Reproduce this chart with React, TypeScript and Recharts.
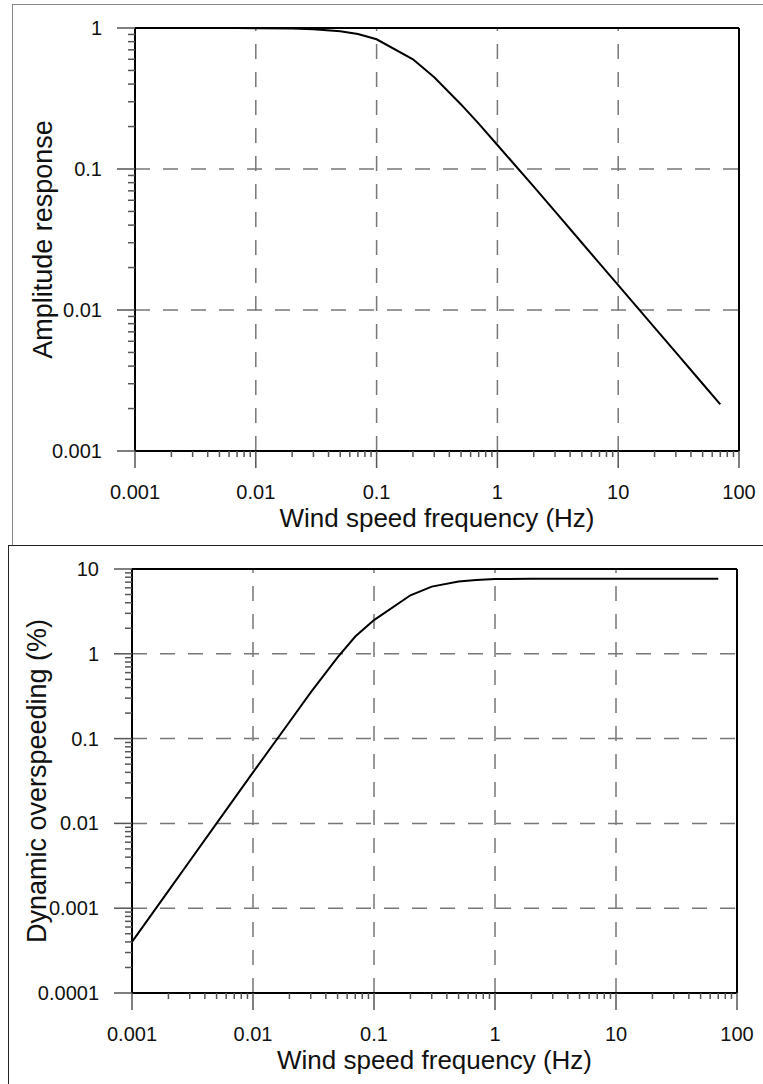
import React from "react";
import { LineChart, Line, XAxis, YAxis, ReferenceLine, Label } from "recharts";

// sampled frequencies (Hz), shared by both panels
const freq = [
  0.001, 0.002, 0.003, 0.005, 0.007, 0.01, 0.02, 0.03, 0.05, 0.07, 0.1, 0.2,
  0.3, 0.5, 0.7, 1, 2, 3, 5, 7, 10, 20, 30, 50, 70,
];

// top panel: amplitude response
const amplitude = [
  1.0, 1.0, 1.0, 0.9994, 0.9989, 0.9978, 0.991, 0.981, 0.949, 0.906, 0.832,
  0.6, 0.447, 0.287, 0.21, 0.148, 0.075, 0.05, 0.03, 0.0214, 0.015, 0.0075,
  0.005, 0.003, 0.00214,
];

// bottom panel: dynamic overspeeding (%)
const overspeed = [
  0.0004, 0.0016, 0.0036, 0.01, 0.0196, 0.04, 0.157, 0.35, 0.91, 1.6, 2.5,
  4.9, 6.2, 7.1, 7.4, 7.6, 7.7, 7.7, 7.7, 7.7, 7.7, 7.7, 7.7, 7.7, 7.7,
];

const xDecades = [0.001, 0.01, 0.1, 1, 10, 100];
const ampDecades = [0.001, 0.01, 0.1, 1];
const overDecades = [0.0001, 0.001, 0.01, 0.1, 1, 10];

const FONT = "'Liberation Sans', Arial, sans-serif";
const GRID = "#777";
const TICK = "#555";

// decades plus the 2..9 minor ticks in between
function withMinor(decades: number[]) {
  const out: number[] = [];
  decades.forEach((d, i) => {
    out.push(d);
    if (i < decades.length - 1) {
      for (let k = 2; k <= 9; k++) out.push(Number((d * k).toPrecision(6)));
    }
  });
  return out;
}

const isDecade = (v: number) => {
  const l = Math.log10(v);
  return Math.abs(l - Math.round(l)) < 1e-6;
};

const XTick = (props: any) => {
  const { x, y, payload } = props;
  const major = isDecade(payload.value);
  return (
    <g>
      <line x1={x} y1={y} x2={x} y2={y + (major ? 17 : 6)} stroke={TICK} strokeWidth={1.5} />
      {major && (
        <text x={x} y={y + 48} textAnchor="middle" fontSize={20} fill="#111" fontFamily={FONT}>
          {String(payload.value)}
        </text>
      )}
    </g>
  );
};

const YTick = (props: any) => {
  const { x, y, payload } = props;
  const major = isDecade(payload.value);
  return (
    <g>
      <line x1={x - (major ? 18 : 7)} y1={y} x2={x} y2={y} stroke={TICK} strokeWidth={1.5} />
      {major && (
        <text x={x - 33} y={y} textAnchor="end" dominantBaseline="central" fontSize={20} fill="#111" fontFamily={FONT}>
          {String(payload.value)}
        </text>
      )}
    </g>
  );
};

const xTitle = (props: any) => {
  const vb = props.viewBox;
  return (
    <text x={vb.x + vb.width / 2} y={vb.y + 76} textAnchor="middle" fontSize={26} fill="#111" fontFamily={FONT}>
      Wind speed frequency (Hz)
    </text>
  );
};

const yTitle = (text: string, cx: number) => (props: any) => {
  const vb = props.viewBox;
  const cy = vb.y + vb.height / 2;
  return (
    <text
      x={cx}
      y={cy}
      transform={`rotate(-90 ${cx} ${cy})`}
      textAnchor="middle"
      dominantBaseline="central"
      fontSize={27}
      fill="#111"
      fontFamily={FONT}
    >
      {text}
    </text>
  );
};

function Panel({
  values,
  yDecades,
  yLabel,
  titleX,
  width,
  height,
  margin,
  yAxisWidth,
  xAxisHeight,
}: {
  values: number[];
  yDecades: number[];
  yLabel: string;
  titleX: number;
  width: number;
  height: number;
  margin: { top: number; right: number; left: number; bottom: number };
  yAxisWidth: number;
  xAxisHeight: number;
}) {
  const data = freq.map((f, i) => ({ f, v: values[i] }));
  const yMin = yDecades[0];
  const yMax = yDecades[yDecades.length - 1];
  return (
    <LineChart width={width} height={height} data={data} margin={margin}>
      <XAxis
        dataKey="f"
        type="number"
        scale="log"
        domain={[0.001, 100]}
        ticks={withMinor(xDecades)}
        interval={0}
        tickSize={0}
        tickMargin={0}
        tickLine={false}
        tick={XTick}
        height={xAxisHeight}
        axisLine={{ stroke: "#000", strokeWidth: 2 }}
      >
        <Label content={xTitle} />
      </XAxis>
      <YAxis
        type="number"
        scale="log"
        domain={[yMin, yMax]}
        ticks={withMinor(yDecades)}
        interval={0}
        tickSize={0}
        tickMargin={0}
        tickLine={false}
        tick={YTick}
        width={yAxisWidth}
        axisLine={{ stroke: "#000", strokeWidth: 2 }}
      >
        <Label content={yTitle(yLabel, titleX)} />
      </YAxis>
      {xDecades.slice(1, -1).map((d) => (
        <ReferenceLine key={`vx${d}`} x={d} stroke={GRID} strokeWidth={1.5} strokeDasharray="15 13" />
      ))}
      {yDecades.slice(1, -1).map((d) => (
        <ReferenceLine key={`hy${d}`} y={d} stroke={GRID} strokeWidth={1.5} strokeDasharray="15 13" />
      ))}
      <Line
        type="linear"
        dataKey="v"
        stroke="#000"
        strokeWidth={2}
        dot={false}
        isAnimationActive={false}
      />
      <ReferenceLine y={yMax} stroke="#000" strokeWidth={2} />
      <ReferenceLine x={100} stroke="#000" strokeWidth={2} />
    </LineChart>
  );
}

export default function App() {
  return (
    <div
      style={{
        position: "absolute",
        left: 0,
        top: 0,
        width: 763,
        height: 1084,
        overflow: "hidden",
        background: "#fff",
      }}
    >
      {/* frames of the two stacked panels */}
      <div
        style={{
          position: "absolute",
          left: 12,
          top: 4,
          width: 800,
          height: 541,
          borderTop: "1.5px solid #888",
          borderLeft: "1.5px solid #888",
        }}
      />
      <div
        style={{
          position: "absolute",
          left: 8,
          top: 545,
          width: 800,
          height: 600,
          borderTop: "1.5px solid #222",
          borderLeft: "1.5px solid #222",
        }}
      />
      <div style={{ position: "absolute", left: 0, top: 0 }}>
        <Panel
          values={amplitude}
          yDecades={ampDecades}
          yLabel="Amplitude response"
          titleX={42.5}
          width={763}
          height={545}
          margin={{ top: 28, right: 24, left: 0, bottom: 0 }}
          yAxisWidth={135}
          xAxisHeight={94}
        />
      </div>
      <div style={{ position: "absolute", left: 0, top: 545 }}>
        <Panel
          values={overspeed}
          yDecades={overDecades}
          yLabel="Dynamic overspeeding (%)"
          titleX={37}
          width={763}
          height={539}
          margin={{ top: 24, right: 26, left: 0, bottom: 0 }}
          yAxisWidth={132}
          xAxisHeight={91}
        />
      </div>
    </div>
  );
}
